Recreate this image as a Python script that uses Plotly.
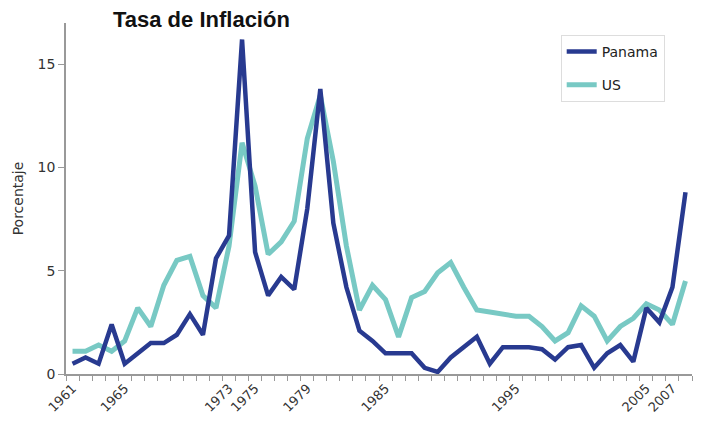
import plotly.graph_objects as go

years = list(range(1961, 2009))
panama = [0.5, 0.8, 0.5, 2.4, 0.5, 1.0, 1.5, 1.5, 1.9, 2.9,
          1.9, 5.6, 6.7, 16.2, 5.9, 3.8, 4.7, 4.1, 8.0, 13.8,
          7.3, 4.2, 2.1, 1.6, 1.0, 1.0, 1.0, 0.3, 0.1, 0.8,
          1.3, 1.8, 0.5, 1.3, 1.3, 1.3, 1.2, 0.7, 1.3, 1.4,
          0.3, 1.0, 1.4, 0.6, 3.2, 2.5, 4.2, 8.8]
us = [1.1, 1.1, 1.4, 1.1, 1.6, 3.2, 2.3, 4.3, 5.5, 5.7,
      3.8, 3.2, 6.2, 11.2, 9.1, 5.8, 6.4, 7.4, 11.4, 13.5,
      10.3, 6.2, 3.1, 4.3, 3.6, 1.8, 3.7, 4.0, 4.9, 5.4,
      4.2, 3.1, 3.0, 2.9, 2.8, 2.8, 2.3, 1.6, 2.0, 3.3,
      2.8, 1.6, 2.3, 2.7, 3.4, 3.1, 2.4, 4.5]
label_years = [1961, 1965, 1973, 1975, 1979, 1985, 1995, 2005, 2007]
y_ticks = [0, 5, 10, 15]

# page body has an 8px margin, so the figure is offset by 8px
W, H = 694, 413

fig = go.Figure()
fig.add_trace(go.Scatter(x=years, y=us, mode="lines", name="US",
                         line=dict(color="#78C9C4", width=5),
                         legendgroup="us", legendrank=2))
fig.add_trace(go.Scatter(x=years, y=panama, mode="lines", name="Panama",
                         line=dict(color="#283A90", width=4.5),
                         legendgroup="pa", legendrank=1))

fig.update_layout(
    width=W, height=H,
    margin=dict(l=58, r=10, t=15, b=47),
    paper_bgcolor="white", plot_bgcolor="white",
    font=dict(family="DejaVu Sans, Verdana, sans-serif", color="#333333", size=13),
    title=dict(text="<b>Tasa de Inflación</b>", x=105/W, xanchor="left",
               y=1-11/H, yanchor="middle",
               font=dict(family="Liberation Sans, Arial, sans-serif", size=22, color="#111111")),
    legend=dict(x=(552.7-58)/626, y=(366-27)/351, xanchor="left", yanchor="top",
                bordercolor="#dddddd", borderwidth=1, bgcolor="white",
                font=dict(size=14, color="#222222"), tracegroupgap=12,
                traceorder="grouped", entrywidth=120),
    showlegend=True,
)
fig.update_xaxes(
    range=[1960.5, 2008.5], tickmode="array", tickvals=label_years,
    ticktext=[str(y) for y in label_years], tickangle=-45,
    ticks="outside", ticklen=0.01, tickcolor="rgba(0,0,0,0)", automargin=False,
    showgrid=False, zeroline=False, showline=True, linecolor="#999999", linewidth=1.5,
    tickfont=dict(size=13, color="#333333"),
    minor=dict(tickmode="array", tickvals=[y - 0.5 for y in years] + [2008.5],
               ticks="outside", ticklen=5, tickcolor="#999999", tickwidth=1, showgrid=False),
)
fig.update_yaxes(
    range=[0, 17], tickmode="array", tickvals=y_ticks, ticks="outside", ticklen=6,
    tickcolor="#999999", showgrid=False, zeroline=False, showline=True, automargin=False,
    linecolor="#999999", linewidth=1.5, tickfont=dict(size=14, color="#333333"),
    title=dict(text="Porcentaje", font=dict(size=14, color="#333333"), standoff=11),
)
fig.write_html("out.html")
